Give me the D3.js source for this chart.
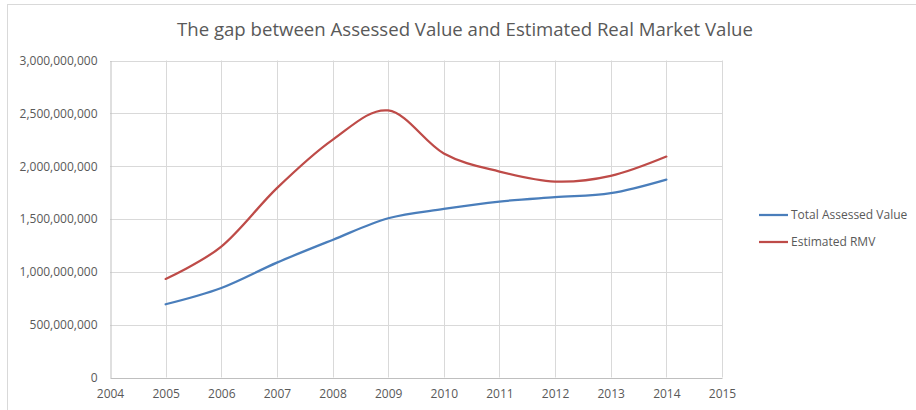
<!DOCTYPE html>
<html lang="en">
<head>
<meta charset="UTF-8">
<title>Assessed vs RMV</title>
<script src="https://d3js.org/d3.v7.min.js"></script>
<style>
  body { margin: 0; background: #fff; }
  text { font-family: "Open Sans", "Liberation Sans", sans-serif; fill: #595959; }
</style>
</head>
<body>
<svg id="chart" width="916" height="410"></svg>
<script>
// data
var years = [2005, 2006, 2007, 2008, 2009, 2010, 2011, 2012, 2013, 2014];
var assessed = [693e6, 847e6, 1087e6, 1302e6, 1507e6, 1595e6, 1665e6, 1706e6, 1744e6, 1873e6];
var rmv = [933e6, 1239e6, 1792e6, 2249e6, 2527e6, 2120e6, 1949e6, 1854e6, 1908e6, 2091e6];
var yTicks = [0, 500e6, 1000e6, 1500e6, 2000e6, 2500e6, 3000e6];
var xTicks = [2004, 2005, 2006, 2007, 2008, 2009, 2010, 2011, 2012, 2013, 2014, 2015];
var seriesNames = ["Total Assessed Value", "Estimated RMV"];
var colors = ["#4a7ebb", "#be4b48"];

var svg = d3.select("#chart");
var plotLeft = 110, plotRight = 722, plotTop = 60.5, plotBottom = 377.5;

// outer chart border
svg.append("rect")
   .attr("x", 7.5).attr("y", 4.5)
   .attr("width", 920).attr("height", 420)
   .attr("fill", "none").attr("stroke", "#d9d9d9");

var x = d3.scaleLinear().domain([2004, 2015]).range([plotLeft, plotRight]);
var y = d3.scaleLinear().domain([0, 3000e6]).range([plotBottom, plotTop]);

// gridlines
svg.append("g").selectAll("line")
   .data(yTicks.slice(1))
   .enter().append("line")
   .attr("x1", plotLeft).attr("x2", plotRight)
   .attr("y1", function (d) { return Math.round(y(d)) + 0.5; })
   .attr("y2", function (d) { return Math.round(y(d)) + 0.5; })
   .attr("stroke", "#d9d9d9");

svg.append("g").selectAll("line")
   .data(xTicks.slice(1))
   .enter().append("line")
   .attr("x1", function (d) { return Math.round(x(d)) + 0.5; })
   .attr("x2", function (d) { return Math.round(x(d)) + 0.5; })
   .attr("y1", plotTop).attr("y2", plotBottom)
   .attr("stroke", "#d9d9d9");

// axes
var yAxis = d3.axisLeft(y).tickValues(yTicks).tickSize(0).tickPadding(13)
              .tickFormat(d3.format(",d"));
var gy = svg.append("g").attr("transform", "translate(" + (plotLeft + 0.5) + ",0)").call(yAxis);
gy.select(".domain").attr("stroke", "#bfbfbf");

var xAxis = d3.axisBottom(x).tickValues(xTicks).tickSize(0).tickPadding(11)
              .tickFormat(d3.format("d"));
var gx = svg.append("g").attr("transform", "translate(0," + (plotBottom + 0.5) + ")").call(xAxis);
gx.select(".domain").attr("stroke", "#bfbfbf");

svg.selectAll(".tick text").style("font-size", "12px").attr("fill", "#595959");

// lines
var line = d3.line()
             .x(function (d, i) { return x(years[i]); })
             .y(function (d) { return y(d); })
             .curve(d3.curveCardinal.tension(0));

[assessed, rmv].forEach(function (s, i) {
    svg.append("path")
       .datum(s)
       .attr("d", line)
       .attr("fill", "none")
       .attr("stroke", colors[i])
       .attr("stroke-width", 2.25)
       .attr("stroke-linecap", "round");
});

// title
svg.append("text")
   .attr("x", 465).attr("y", 36)
   .attr("text-anchor", "middle")
   .style("font-size", "18.6px")
   .text("The gap between Assessed Value and Estimated Real Market Value");

// legend
var legend = svg.selectAll(".legend")
   .data(seriesNames)
   .enter().append("g")
   .attr("transform", function (d, i) { return "translate(759," + (215 + i * 27) + ")"; });

legend.append("line")
   .attr("x1", 0).attr("x2", 29)
   .attr("stroke", function (d, i) { return colors[i]; })
   .attr("stroke-width", 2.25);

legend.append("text")
   .attr("x", 32).attr("dy", "0.35em")
   .style("font-size", "12px")
   .text(function (d) { return d; });
</script>
</body>
</html>
